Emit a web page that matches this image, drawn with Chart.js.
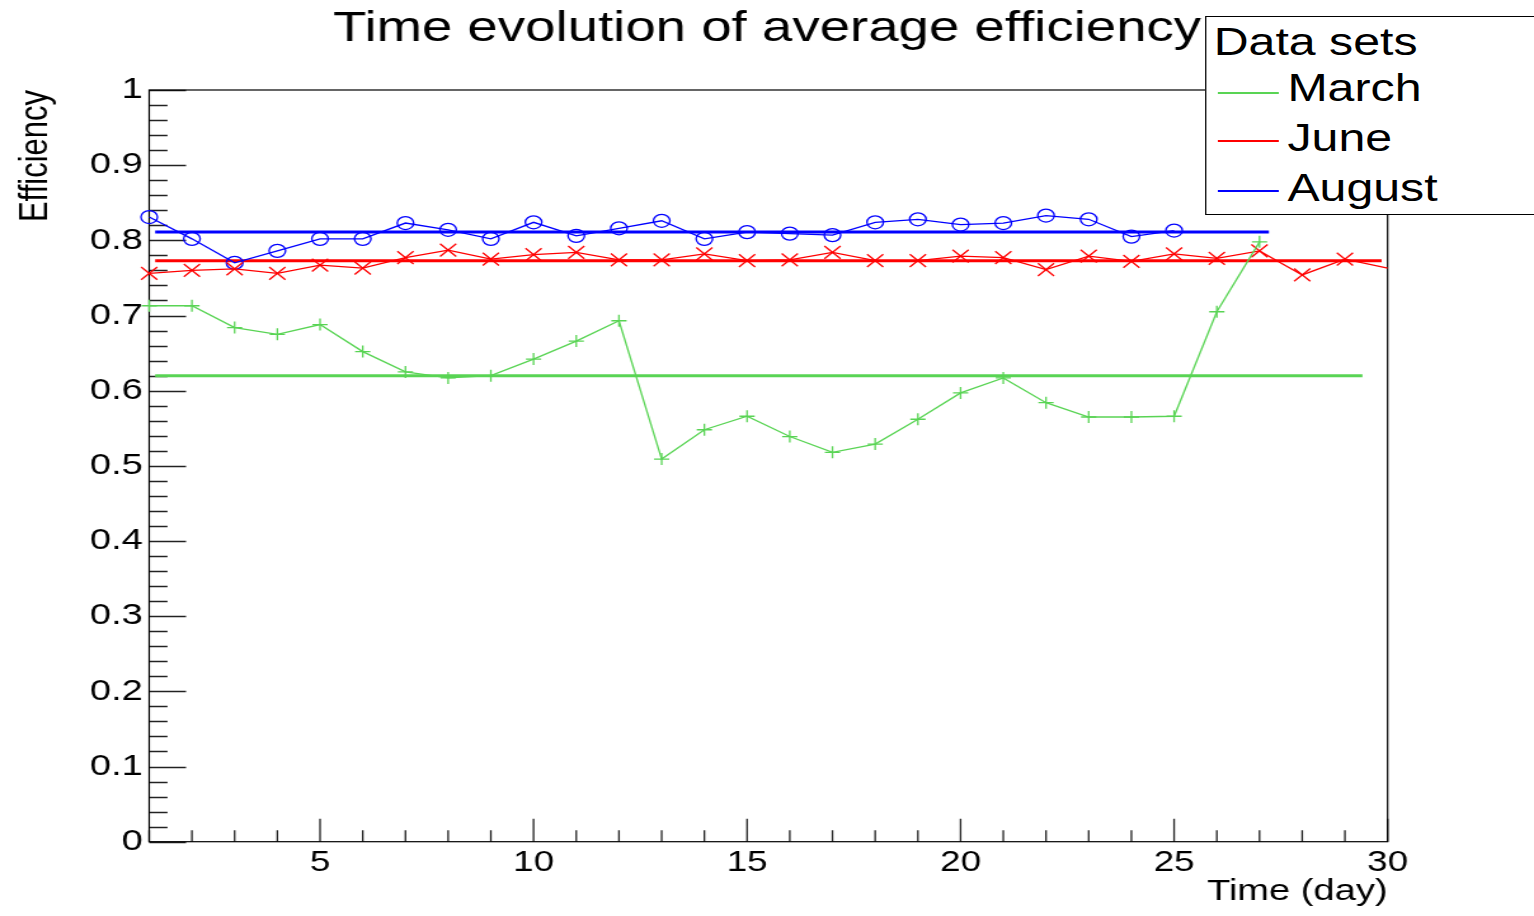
<!DOCTYPE html>
<html>
<head>
<meta charset="utf-8">
<title>Time evolution of average efficiency</title>
<script src="https://cdn.jsdelivr.net/npm/chart.js@4"></script>
<style>
  html, body { margin: 0; padding: 0; background: #fff; overflow: hidden; }
  /* the reference is a ROOT canvas stretched sideways, so the whole figure is drawn narrow and scaled in x */
  #wrap { position: absolute; left: 0; top: 0; width: 1208px; height: 916px; overflow: hidden;
          transform: scaleX(1.2699); transform-origin: 0 0; }
  #legend { position: absolute; left: 948.8px; top: 16px; width: 320px; height: 197px;
            border: 1px solid #000; background: #fff; font-family: "Liberation Sans", Arial, sans-serif; }
  #legend .txt { position: absolute; font-size: 38px; line-height: 38px; color: #000; white-space: nowrap; }
  #legend .line { position: absolute; left: 9px; width: 48px; height: 2px; }
</style>
</head>
<body>
<div id="wrap">
  <canvas id="chart" width="1208" height="916"></canvas>
  <div id="legend"></div>
</div>
<script>
// days of the month
const days = [1, 2, 3, 4, 5, 6, 7, 8, 9, 10, 11, 12, 13, 14, 15, 16, 17, 18, 19, 20,
              21, 22, 23, 24, 25, 26, 27, 28, 29, 30];

// average efficiency per day
const marchEff = [0.713, 0.713, 0.684, 0.675, 0.688, 0.652, 0.625, 0.617, 0.620, 0.642,
                  0.666, 0.693, 0.509, 0.548, 0.566, 0.539, 0.518, 0.529, 0.562, 0.597,
                  0.617, 0.584, 0.565, 0.565, 0.566, 0.705, 0.798];
const juneEff = [0.756, 0.760, 0.762, 0.756, 0.767, 0.763, 0.777, 0.787, 0.775, 0.781,
                 0.784, 0.774, 0.774, 0.782, 0.773, 0.774, 0.784, 0.773, 0.773, 0.779,
                 0.777, 0.761, 0.779, 0.772, 0.782, 0.776, 0.786, 0.754, 0.775, 0.763];
const augustEff = [0.831, 0.802, 0.770, 0.786, 0.802, 0.802, 0.823, 0.814, 0.802, 0.824,
                   0.806, 0.816, 0.826, 0.802, 0.811, 0.809, 0.807, 0.824, 0.828, 0.821,
                   0.823, 0.833, 0.828, 0.805, 0.813];

// constant fits (mean) and the x range each one is drawn over
const marchMean = 0.620;
const juneMean = 0.773;
const augustMean = 0.811;
const marchFitRange = [1.14, 29.41];
const juneFitRange = [1.14, 29.86];
const augustFitRange = [1.14, 27.22];

const seriesNames = ["March", "June", "August"];
const legendTitle = "Data sets";

// axes
const xMin = 1, xMax = 30;
const yMin = 0, yMax = 1;
const xTickValues = [5, 10, 15, 20, 25, 30];
const xTickLabels = ["5", "10", "15", "20", "25", "30"];
const xMinorStep = 1;
const yTickValues = [0, 0.1, 0.2, 0.3, 0.4, 0.5, 0.6, 0.7, 0.8, 0.9, 1];
const yTickLabels = ["0", "0.1", "0.2", "0.3", "0.4", "0.5", "0.6", "0.7", "0.8", "0.9", "1"];
const yMinorStep = 0.02;

const GREEN = "rgb(89,212,84)";
const RED = "rgb(255,0,0)";
const BLUE = "rgb(0,0,255)";
const seriesColors = [GREEN, RED, BLUE];
const FONT = "'Liberation Sans', Arial, sans-serif";

function points(vals) {
    return vals.map((v, i) => ({ x: days[i], y: v }));
}
function fitLine(range, mean) {
    return range.map(x => ({ x: x, y: mean }));
}

// ROOT style frame with ticks pointing inwards
const frameTicks = {
    id: "frameTicks",
    beforeDatasetsDraw(chart) {
        const ctx = chart.ctx;
        const a = chart.chartArea;
        const xs = chart.scales.x, ys = chart.scales.y;
        ctx.save();
        ctx.strokeStyle = "#222";
        ctx.lineWidth = 1.3;
        ctx.beginPath();
        // y axis: major + minor
        for (let k = 0; k * yMinorStep <= yMax - yMin + 1e-9; k++) {
            const v = yMin + k * yMinorStep;
            const py = Math.round(ys.getPixelForValue(v)) + 0.5;
            const major = yTickValues.some(t => Math.abs(t - v) < 1e-6);
            ctx.moveTo(a.left, py);
            ctx.lineTo(a.left + (major ? 29 : 14.4), py);
        }
        // x axis: major + minor
        for (let v = xMin; v <= xMax; v += xMinorStep) {
            const px = xs.getPixelForValue(v);
            const major = xTickValues.includes(v);
            ctx.moveTo(px, a.bottom);
            ctx.lineTo(px, a.bottom - (major ? 23 : 11.5));
        }
        ctx.stroke();
        ctx.strokeStyle = "#000";
        ctx.lineWidth = 1.2;
        ctx.strokeRect(a.left, a.top, a.right - a.left, a.bottom - a.top);
        ctx.restore();
    }
};

const dataStyle = { showLine: true, fill: false, tension: 0, borderWidth: 1.3, pointBorderWidth: 1.3, clip: false };
const fitStyle = { showLine: true, fill: false, tension: 0, borderWidth: 3, pointRadius: 0 };

const chart = new Chart(document.getElementById("chart").getContext("2d"), {
    type: "line",
    data: {
        datasets: [
            Object.assign({ label: seriesNames[0], data: points(marchEff), borderColor: GREEN,
                pointStyle: "cross", pointRadius: 6, pointBorderColor: GREEN }, dataStyle),
            Object.assign({ label: seriesNames[1], data: points(juneEff), borderColor: RED,
                pointStyle: "crossRot", pointBorderColor: RED,
                pointRadius: c => (c.raw && c.raw.x >= xMax) ? 0 : 9 }, dataStyle),
            Object.assign({ label: seriesNames[2], data: points(augustEff), borderColor: BLUE,
                pointStyle: "circle", pointRadius: 6.5, pointBorderColor: BLUE,
                pointBackgroundColor: "rgba(0,0,0,0)" }, dataStyle),
            Object.assign({ label: "March mean", data: fitLine(marchFitRange, marchMean), borderColor: GREEN }, fitStyle),
            Object.assign({ label: "June mean", data: fitLine(juneFitRange, juneMean), borderColor: RED }, fitStyle),
            Object.assign({ label: "August mean", data: fitLine(augustFitRange, augustMean), borderColor: BLUE }, fitStyle)
        ]
    },
    options: {
        responsive: false,
        animation: false,
        devicePixelRatio: 1,
        events: [],
        layout: { padding: 0 },
        plugins: {
            legend: { display: false },
            tooltip: { enabled: false },
            title: {
                display: true,
                text: "Time evolution of average efficiency",
                color: "#000",
                font: { family: FONT, size: 43, weight: "normal", lineHeight: 1.2 },
                padding: { top: 3, bottom: 35.4 }
            }
        },
        scales: {
            x: {
                type: "linear",
                min: xMin, max: xMax,
                grid: { display: false, drawTicks: false },
                border: { display: false },
                afterBuildTicks: s => { s.ticks = xTickValues.map(v => ({ value: v })); },
                afterFit: s => { s.height = 74.3; },
                ticks: {
                    color: "#000", padding: 3.4, maxRotation: 0, autoSkip: false,
                    font: { family: FONT, size: 29 },
                    callback: (v, i) => xTickLabels[i]
                },
                title: {
                    display: true, text: "Time (day)", align: "end", color: "#000",
                    font: { family: FONT, size: 30 },
                    padding: { top: 0, bottom: 6.3 }
                }
            },
            y: {
                type: "linear",
                min: yMin, max: yMax,
                grid: { display: false, drawTicks: false },
                border: { display: false },
                afterBuildTicks: s => { s.ticks = yTickValues.map(v => ({ value: v })); },
                afterFit: s => { s.width = 117.5; },
                ticks: {
                    color: "#000", padding: 5, autoSkip: false,
                    font: { family: FONT, size: 30 },
                    callback: (v, i) => yTickLabels[i]
                },
                title: {
                    display: true, text: "Efficiency", align: "end", color: "#000",
                    font: { family: FONT, size: 31 },
                    padding: { top: 9.6, bottom: 0 }
                }
            },
            // empty right-hand margin so the title stays centred on the canvas
            yRight: {
                position: "right",
                display: true,
                grid: { display: false, drawTicks: false },
                border: { display: false },
                ticks: { display: false },
                afterFit: s => { s.width = 115.3; }
            }
        }
    },
    plugins: [frameTicks]
});

// ROOT style legend box
(function buildLegend() {
    const box = document.getElementById("legend");
    const head = document.createElement("div");
    head.className = "txt";
    head.style.left = "6px";
    head.style.top = "5.5px";
    head.textContent = legendTitle;
    box.appendChild(head);
    const lineY = [75, 123, 173];
    const textTop = [52.4, 102.4, 152.4];
    seriesNames.forEach((name, i) => {
        const ln = document.createElement("div");
        ln.className = "line";
        ln.style.top = lineY[i] + "px";
        ln.style.backgroundColor = seriesColors[i];
        box.appendChild(ln);
        const t = document.createElement("div");
        t.className = "txt";
        t.style.left = "64px";
        t.style.top = textTop[i] + "px";
        t.textContent = name;
        box.appendChild(t);
    });
})();
</script>
</body>
</html>
